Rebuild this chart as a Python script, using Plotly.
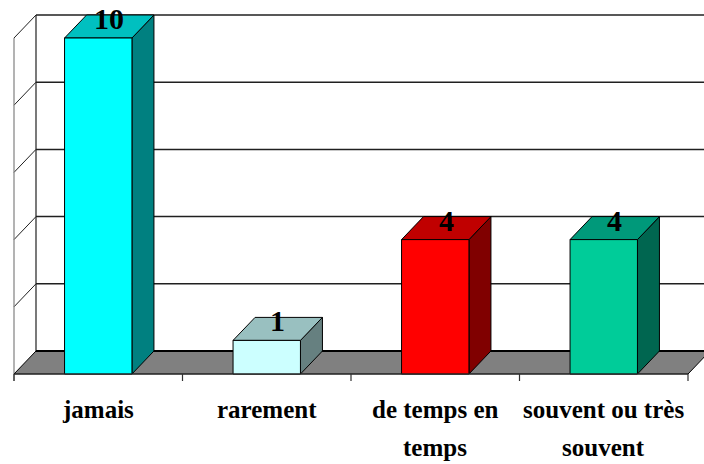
import plotly.graph_objects as go

categories = ["jamais", "rarement", "de temps en<br>temps", "souvent ou très<br>souvent"]
values = [10, 1, 4, 4]
front_colors = ["#00FFFF", "#CCFFFF", "#FF0000", "#00CC99"]
top_colors = ["#00C0C0", "#99C0C0", "#C00000", "#00997A"]
side_colors = ["#008080", "#668080", "#800000", "#006650"]
y_max = 10
grid_step = 2

# geometry (body margin removed via post_script)
W, H = 704, 464
px_per_x = 168.5
px_per_y = 33.6
x0_px, y0_px = 14, 374
ddx = 22 / px_per_x
ddy = 23 / px_per_y
bar_w = 0.4
n = len(categories)
xr = [-0.5 - x0_px / px_per_x, -0.5 + (W - x0_px) / px_per_x]
yr = [(y0_px - H) / px_per_y, y0_px / px_per_y]
tick_len = 7 / px_per_y
FONT = "Liberation Serif, Times New Roman, serif"

fig = go.Figure()

def poly(xs, ys, fill, line="black", width=1):
    fig.add_trace(go.Scatter(x=xs + [xs[0]], y=ys + [ys[0]], mode="lines",
                             fill="toself", fillcolor=fill,
                             line=dict(color=line, width=width),
                             hoverinfo="skip", showlegend=False))

def seg(xs, ys, color="black", width=1):
    fig.add_trace(go.Scatter(x=xs, y=ys, mode="lines",
                             line=dict(color=color, width=width),
                             hoverinfo="skip", showlegend=False))

left = -0.5
right = n - 0.5

# back wall gridlines
for g in range(grid_step, y_max + 1, grid_step):
    seg([left + ddx, right + ddx + 0.2], [g + ddy, g + ddy], "#202020", 1.5)
    seg([left, left + ddx], [g, g + ddy], "#202020", 1)
# back wall left edge
seg([left + ddx, left + ddx], [ddy, y_max + ddy], "#202020", 1.2)
# left front edge
seg([left, left], [-tick_len, y_max], "#808080", 1.2)

# floor
poly([left, left + ddx, right + ddx, right], [0, ddy, ddy, 0], "#808080", "black", 1)
seg([left + ddx, right + ddx], [ddy, ddy], "black", 2)

# bars
for i, (v, fc, tc, sc) in enumerate(zip(values, front_colors, top_colors, side_colors)):
    xa = i - bar_w / 2
    xb = i + bar_w / 2
    poly([xb, xb + ddx, xb + ddx, xb], [0, ddy, v + ddy, v], sc)
    poly([xa, xb, xb + ddx, xa + ddx], [v, v, v + ddy, v + ddy], tc)
    poly([xa, xb, xb, xa], [0, 0, v, v], fc)

# front axis line and ticks
seg([left, right], [0, 0], "#303030", 1.2)
for k in range(n + 1):
    seg([left + k, left + k], [0, -tick_len], "#303030", 1.2)

annotations = []
for i, v in enumerate(values):
    annotations.append(dict(x=i + ddx / 2, y=v + ddy / 2, text="<b>" + str(v) + "</b>", showarrow=False,
                            xanchor="center", yanchor="middle", yshift=8,
                            font=dict(family=FONT, size=30, color="black")))
for i, c in enumerate(categories):
    lines = c.split("<br>")
    for j, t in enumerate(lines):
        ypx = 409 + j * 38
        annotations.append(dict(x=i, y=(y0_px - ypx) / px_per_y, text="<b>" + t + "</b>",
                                showarrow=False, xanchor="center", yanchor="middle",
                                font=dict(family=FONT, size=25, color="black")))

fig.update_layout(
    width=W, height=H,
    margin=dict(l=0, r=0, t=0, b=0),
    paper_bgcolor="white", plot_bgcolor="white",
    xaxis=dict(range=xr, visible=False, fixedrange=True),
    yaxis=dict(range=yr, visible=False, fixedrange=True),
    annotations=annotations,
    showlegend=False,
    hovermode=False,
)

fig.write_html("out.html", config={"displayModeBar": False, "staticPlot": True},
               post_script="document.body.style.margin='0';document.body.style.overflow='hidden';")
